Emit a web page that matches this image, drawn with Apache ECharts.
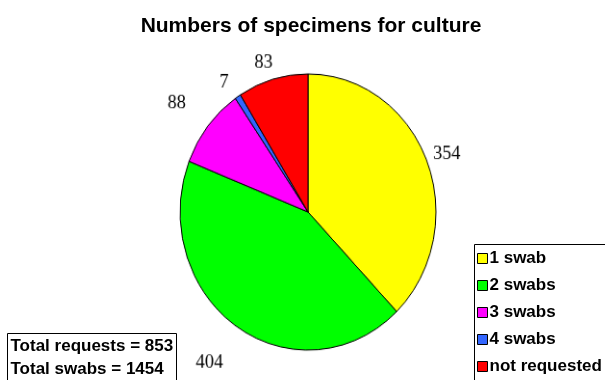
<!DOCTYPE html>
<html>
<head>
<meta charset="utf-8">
<script src="https://cdn.jsdelivr.net/npm/echarts@6/dist/echarts.min.js"></script>
<style>
  html, body { margin: 0; padding: 0; background: #fff; }
  #wrap { position: relative; width: 605px; height: 380px; }
  #chart, #pie { position: absolute; left: 0; top: 0; width: 605px; height: 380px; }
  /* the pie in the reference is an ellipse, so the pie layer is stretched a little */
  #pie { transform-origin: 308px 212px; transform: scale(0.962, 1.038); }
</style>
</head>
<body>
<div id="wrap">
  <div id="chart"></div>
  <div id="pie"></div>
</div>
<script>
var categories = ['1 swab', '2 swabs', '3 swabs', '4 swabs', 'not requested']
var counts = [354, 404, 88, 7, 83]
var colors = ['#FFFF00', '#00FF00', '#FF00FF', '#3366FF', '#FF0000']
var totals = ['Total requests = 853', 'Total swabs = 1454']

var mainChart = echarts.init(document.getElementById('chart'))
var pieChart = echarts.init(document.getElementById('pie'))

function makeData () {
  return categories.map(function (name, i) {
    return { name: name, value: counts[i], itemStyle: { color: colors[i] } }
  })
}

// base layer: title, legend, totals box (legend is fed by an invisible pie)
mainChart.setOption({
  backgroundColor: '#fff',
  animation: false,
  title: {
    text: 'Numbers of specimens for culture',
    left: 306,
    textAlign: 'center',
    top: 11,
    textStyle: {
      fontFamily: 'Liberation Sans',
      fontSize: 21,
      fontWeight: 'bold',
      color: '#000'
    }
  },
  legend: {
    orient: 'vertical',
    left: 472,
    top: 242,
    padding: [8, 10, 0, 5],
    itemWidth: 10,
    itemHeight: 10,
    itemGap: 10,
    icon: 'rect',
    data: categories,
    itemStyle: { borderColor: '#000', borderWidth: 1 },
    textStyle: {
      fontFamily: 'Liberation Sans',
      fontSize: 17,
      fontWeight: 'bold',
      color: '#000',
      padding: [0, 0, 0, -3]
    }
  },
  graphic: [{
    type: 'rect',
    left: 472,
    top: 242,
    z: -1,
    shape: { x: 0, y: 0, width: 150, height: 150 },
    style: { fill: 'none', stroke: '#000', lineWidth: 1 }
  }, {
    type: 'group',
    left: 7,
    top: 333,
    children: [{
      type: 'rect',
      shape: { x: 0, y: 0, width: 169, height: 60 },
      style: { fill: '#fff', stroke: '#000', lineWidth: 1 }
    }, {
      type: 'text',
      x: 3,
      y: 1,
      style: {
        text: totals.join('\n'),
        font: 'bold 17px "Liberation Sans"',
        lineHeight: 23,
        fill: '#000'
      }
    }]
  }],
  series: [{
    type: 'pie',
    radius: 0,
    center: [-100, -100],
    silent: true,
    label: { show: false },
    labelLine: { show: false },
    data: makeData()
  }]
})

var pieData = makeData()
pieData[1].labelLine = { length: 42, length2: 0 }
pieData[2].labelLine = { length: 35, length2: 0 }

pieChart.setOption({
  animation: false,
  series: [{
    type: 'pie',
    center: [308, 212],
    radius: 133,
    startAngle: 90,
    clockwise: true,
    avoidLabelOverlap: false,
    itemStyle: { borderColor: '#000', borderWidth: 1 },
    label: {
      show: true,
      position: 'outside',
      formatter: '{c}',
      fontFamily: 'Liberation Serif',
      fontSize: 19,
      color: '#000'
    },
    labelLine: { show: false, length: 17, length2: 0 },
    labelLayout: { align: 'center', verticalAlign: 'middle' },
    emphasis: { disabled: true },
    data: pieData
  }]
})
</script>
</body>
</html>
